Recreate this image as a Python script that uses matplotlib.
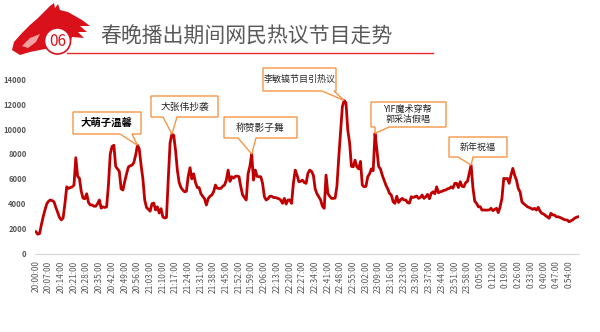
import matplotlib
matplotlib.use("Agg")
import matplotlib.pyplot as plt
from matplotlib.patches import Polygon, Circle
import numpy as np

plt.rcParams["font.family"] = ["Noto Sans CJK SC", "DejaVu Sans"]

# per-minute discussion volume, 20:00 -> 0:59
start_hour = 20
n_minutes = 300
values = [
    1750, 1550, 1600, 2300, 2950, 3500, 4000, 4200, 4300, 4250,
    4150, 3700, 3300, 2900, 2700, 2850, 4000, 5360, 5230, 5300,
    5350, 5500, 7700, 6200, 6050, 5000, 4450, 4400, 4800, 4100,
    3900, 3900, 3800, 3800, 4000, 4300, 3650, 3750, 3700, 3750,
    5500, 8000, 8600, 8700, 7000, 6800, 6600, 5200, 5100, 5800,
    6400, 6950, 7050, 7100, 7300, 7900, 8700, 8400, 7100, 6000,
    4300, 3700, 3550, 3400, 4000, 4050, 3500, 3750, 3250, 3600,
    2950, 2850, 2900, 6000, 8900, 9600, 9500, 8300, 6700, 5700,
    5300, 5100, 4960, 5000, 6200, 6900, 6000, 6400, 5700, 5300,
    5300, 4800, 4600, 4400, 3900, 4400, 4600, 4700, 4960, 5500,
    5250, 5230, 5230, 5400, 5500, 5900, 6700, 5800, 6170, 6050,
    6200, 6220, 6170, 5360, 4700, 4500, 4300, 6400, 7000, 8000,
    5900, 6700, 6200, 6170, 6170, 5640, 4560, 4300, 4400, 4600,
    4600, 4500, 4500, 4450, 4400, 4300, 4030, 4430, 3970, 4300,
    4300, 4030, 5640, 6700, 6300, 5770, 5800, 5900, 5700, 5640,
    6440, 6700, 6600, 6300, 5200, 4800, 4560, 4300, 3800, 3630,
    6300, 4830, 4600, 4430, 4430, 4450, 5400, 7700, 9800, 11800,
    12300, 12100, 9900, 8900, 7000, 6970, 7500, 6970, 6800, 7400,
    5500, 5360, 5400, 6170, 6400, 6800, 6650, 9650, 8400, 7000,
    6800, 6300, 5900, 5500, 5200, 4830, 4700, 4160, 4030, 4600,
    4100, 4300, 4430, 4300, 4300, 4080, 4050, 4560, 4500, 4560,
    4620, 4430, 4500, 4700, 4430, 4560, 4750, 4400, 4830, 4960,
    4800, 5360, 4880, 4960, 5000, 5080, 5100, 5200, 5230, 5360,
    5250, 5640, 5640, 5300, 5770, 5400, 5360, 5700, 5800, 6440,
    7110, 5300, 4200, 4030, 3760, 3760, 3490, 3500, 3490, 3490,
    3500, 3630, 3440, 3550, 3630, 3280, 3760, 4430, 6040, 6000,
    6040, 5640, 6300, 6840, 6300, 5900, 5230, 4960, 4160, 4000,
    3890, 3760, 3700, 3630, 3550, 3630, 3490, 3710, 3400, 3230,
    3170, 3050, 2950, 2830, 3230, 3100, 3090, 2950, 2950, 2900,
    2830, 2750, 2700, 2690, 2550, 2630, 2700, 2830, 2910, 2950,
]
time_labels = [f"{(start_hour + m // 60) % 24}:{m % 60:02d}:00" for m in range(n_minutes)]

# (text, peak minute index)
events = [
    ("大萌子温馨", 56),
    ("大张伟抄袭", 75),
    ("称赞影子舞", 119),
    ("李敏镐节目引热议", 170),
    ("YIF魔术穿帮\n郭采洁假唱", 187),
    ("新年祝福", 240),
]

W, H = 600, 332
fig = plt.figure(figsize=(W / 100, H / 100), dpi=100)


def px(x, y):
    # pixel (from top-left) -> figure fraction
    return (x / W, 1 - y / H)


ax = fig.add_axes([35 / W, 1 - 253.5 / H, 544 / W, (253.5 - 79.3) / H])
x = np.arange(n_minutes)
ax.plot(x, values, color="#c00000", linewidth=2.0, solid_joinstyle="round")
ax.set_xlim(-0.5, n_minutes - 0.5)
ax.set_ylim(0, 14000)
ax.set_yticks(range(0, 14001, 2000))
ax.set_yticklabels([str(v) for v in range(0, 14001, 2000)],
                   fontsize=5.5, fontweight="bold", color="#595959")
ax.set_xticks(x[::7])
ax.set_xticklabels(time_labels[::7], rotation=90, fontsize=6, color="#595959")
ax.tick_params(axis="both", length=0)
ax.tick_params(axis="x", pad=5)
ax.tick_params(axis="y", pad=6)
for s in ["top", "right", "left"]:
    ax.spines[s].set_visible(False)
ax.spines["bottom"].set_color("#d9d9d9")
ax.spines["bottom"].set_linewidth(0.8)

# callout boxes: box (x0, y0, x1, y1) px, pointer base on bottom edge (bx0, bx1)
boxes = [
    ((73, 112, 141, 134), (120, 132), 7.5, "bold", "#000000"),
    ((151, 96, 218, 117), (163, 177), 7, "normal", "#262626"),
    ((224, 117, 297, 138), (238, 256), 7, "normal", "#262626"),
    ((263, 68, 336, 91), (322, 334), 6.5, "normal", "#262626"),
    ((371, 102, 446, 127), (375, 389), 6.5, "normal", "#262626"),
    ((449, 137, 507, 157), (458, 473), 6.5, "normal", "#262626"),
]
fig.canvas.draw()
to_fig = fig.transFigure.inverted()
for (text, idx), (box, base, fs, fw, tc) in zip(events, boxes):
    x0, y0, x1, y1 = box
    tip = to_fig.transform(ax.transData.transform((idx, values[idx])))
    pts = [px(x0, y0), px(x1, y0), px(x1, y1), px(base[1], y1),
           tuple(tip), px(base[0], y1), px(x0, y1)]
    fig.patches.append(Polygon(pts, closed=True, transform=fig.transFigure,
                               facecolor="white", edgecolor="#f79646",
                               linewidth=1.0, zorder=5))
    cx, cy = px((x0 + x1) / 2, (y0 + y1) / 2)
    fig.text(cx, cy, text, ha="center", va="center", fontsize=fs,
             fontweight=fw, color=tc, zorder=6, linespacing=1.2)

# header: horse logo, circle badge, title, underline
horse = [(12, 50), (14, 42), (22, 33), (30, 25), (38, 18), (44, 12), (50, 6),
         (54, 3), (55, 8), (58, 4), (60, 10), (68, 12), (75, 16), (82, 20),
         (90, 26), (80, 26), (87, 32), (78, 32), (84, 38), (72, 37),
         (70, 44), (62, 50), (45, 49), (30, 52), (20, 55)]
fig.patches.append(Polygon([px(a, b) for a, b in horse], closed=True,
                           transform=fig.transFigure, facecolor="#d9111a",
                           edgecolor="none", zorder=2))
fig.patches.append(Polygon([px(a, b) for a, b in [(22, 46), (30, 38), (40, 34),
                                                 (36, 42), (28, 48)]],
                           closed=True, transform=fig.transFigure,
                           facecolor="#f3a0a0", edgecolor="none", zorder=3))
fig.lines.append(plt.Line2D([67 / W, 433 / W], [1 - 53.3 / H] * 2,
                            transform=fig.transFigure, color="#e52a2a",
                            linewidth=1.0, zorder=2))
circle = Circle(px(57.5, 41), 13 / W, transform=fig.transFigure,
                facecolor="white", edgecolor="#d9111a", linewidth=1.2, zorder=4)
circle.set_transform(fig.dpi_scale_trans)
circle.center = (57.5 / 100, (H - 41) / 100)
circle.set_radius(13 / 100)
fig.patches.append(circle)
fig.text(57.5 / W, 1 - 41 / H, "06", ha="center", va="center", fontsize=11,
         color="#d9111a", zorder=5)
fig.text(100 / W, 1 - 37 / H, "春晚播出期间网民热议节目走势", ha="left",
         va="center", fontsize=15, color="#595959")

fig.savefig("out.png", dpi=100)
